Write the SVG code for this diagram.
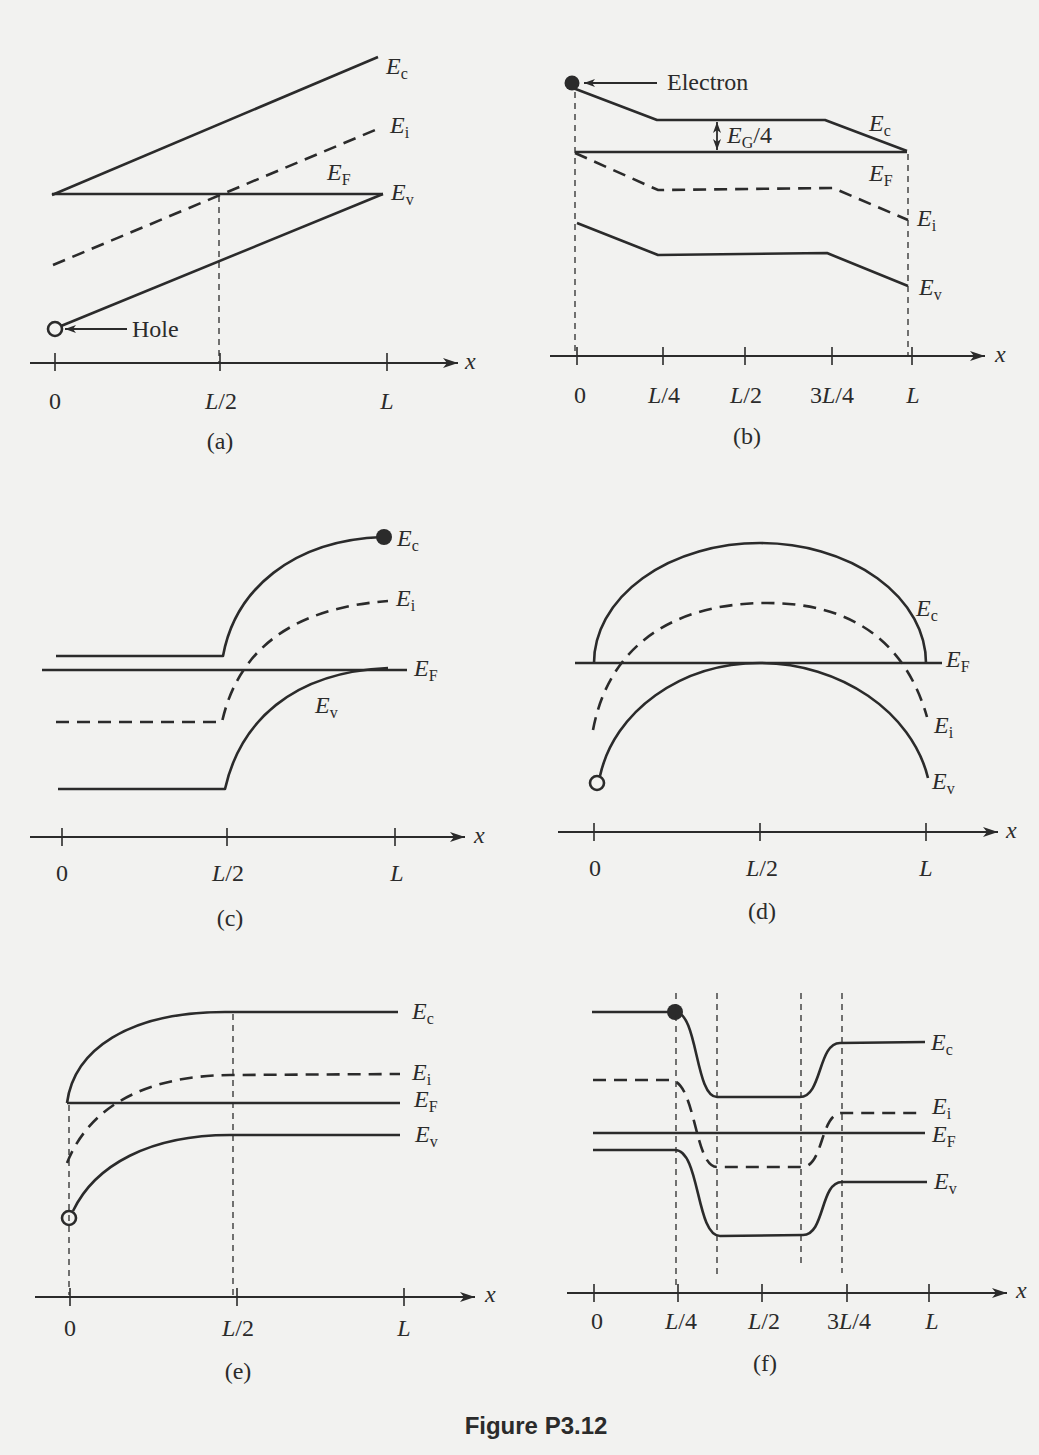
<svg xmlns="http://www.w3.org/2000/svg" width="1039" height="1455" viewBox="0 0 1039 1455">
<defs>
<marker id="ah" markerUnits="userSpaceOnUse" markerWidth="16" markerHeight="10" refX="15" refY="5" orient="auto">
<path d="M0,0 L15,5 L0,10 L4,5 z" fill="#2b2b2b"/>
</marker>
<marker id="ahs" markerUnits="userSpaceOnUse" markerWidth="12" markerHeight="8" refX="11" refY="4" orient="auto-start-reverse">
<path d="M0,0 L11,4 L0,8 L3,4 z" fill="#2b2b2b"/>
</marker>
</defs>
<style>
.bg{fill:#f2f2f0}
.band{fill:none;stroke:#2b2b2b;stroke-width:2.6;stroke-linejoin:round}
.dash{fill:none;stroke:#2b2b2b;stroke-width:2.6;stroke-dasharray:13,8}
.vd{fill:none;stroke:#2b2b2b;stroke-width:1.3;stroke-dasharray:6,5}
.axis{fill:none;stroke:#2b2b2b;stroke-width:1.8}
.tick{stroke:#2b2b2b;stroke-width:1.6}
.t{font-family:"Liberation Serif","Times New Roman",serif;font-size:24px;fill:#2b2b2b}
.c{text-anchor:middle}
.i{font-style:italic}
.sub{font-style:normal;font-size:16px}
.cap{font-family:"Liberation Sans",Arial,sans-serif;font-weight:bold;font-size:24px;fill:#2b2b2b;text-anchor:middle}
</style>
<rect class="bg" x="0" y="0" width="1039" height="1455"/>

<!-- Panel (a) -->
<g id="panel-a">
<path class="band" d="M52,195 L378,57"/>
<path class="dash" d="M53,265 L380,128"/>
<path class="band" d="M52,194 L383,194"/>
<path class="band" d="M61,326 L383,194"/>
<circle cx="55" cy="329" r="7" fill="#f2f2f0" stroke="#2b2b2b" stroke-width="2.6"/>
<line class="axis" x1="127" y1="329" x2="65" y2="329" marker-end="url(#ahs)"/>
<text class="t" x="132" y="337">Hole</text>
<line class="vd" x1="219" y1="196" x2="219" y2="362"/>
<line class="axis" x1="30" y1="363" x2="458" y2="363" marker-end="url(#ah)"/>
<line class="tick" x1="55" y1="353" x2="55" y2="371"/>
<line class="tick" x1="220" y1="353" x2="220" y2="371"/>
<line class="tick" x1="387" y1="353" x2="387" y2="371"/>
<text class="t i" x="465" y="369">x</text>
<text class="t c" x="55" y="409">0</text>
<text class="t c" x="221" y="409"><tspan class="i">L</tspan>/2</text>
<text class="t c i" x="387" y="409">L</text>
<text class="t c" x="220" y="449">(a)</text>
<text class="t i" x="386" y="74">E<tspan class="sub" dy="5">c</tspan></text>
<text class="t i" x="390" y="133">E<tspan class="sub" dy="5">i</tspan></text>
<text class="t i" x="327" y="180">E<tspan class="sub" dy="5">F</tspan></text>
<text class="t i" x="391" y="200">E<tspan class="sub" dy="5">v</tspan></text>
</g>

<!-- Panel (b) -->
<g id="panel-b">
<path class="band" d="M573,88 L657,120 L825,120 L907,151"/>
<path class="band" d="M575,152 L907,152"/>
<path class="dash" d="M575,153 L658,190 L833,188 L908,220"/>
<path class="band" d="M577,223 L658,255 L827,253 L908,286"/>
<circle cx="572" cy="83" r="7.5" fill="#2b2b2b"/>
<line class="axis" x1="657" y1="83" x2="584" y2="83" marker-end="url(#ahs)"/>
<text class="t" x="667" y="90">Electron</text>
<line class="axis" x1="717" y1="122" x2="717" y2="150" marker-start="url(#ahs)" marker-end="url(#ahs)"/>
<text class="t i" x="727" y="143">E<tspan class="sub" dy="5">G</tspan><tspan dy="-5" style="font-style:normal">/4</tspan></text>
<line class="vd" x1="575" y1="92" x2="575" y2="355"/>
<line class="vd" x1="908" y1="154" x2="908" y2="355"/>
<line class="axis" x1="550" y1="356" x2="985" y2="356" marker-end="url(#ah)"/>
<line class="tick" x1="577" y1="347" x2="577" y2="365"/>
<line class="tick" x1="663" y1="347" x2="663" y2="365"/>
<line class="tick" x1="745" y1="347" x2="745" y2="365"/>
<line class="tick" x1="832" y1="347" x2="832" y2="365"/>
<line class="tick" x1="912" y1="347" x2="912" y2="365"/>
<text class="t i" x="995" y="362">x</text>
<text class="t c" x="580" y="403">0</text>
<text class="t c" x="664" y="403"><tspan class="i">L</tspan>/4</text>
<text class="t c" x="746" y="403"><tspan class="i">L</tspan>/2</text>
<text class="t c" x="832" y="403">3<tspan class="i">L</tspan>/4</text>
<text class="t c i" x="913" y="403">L</text>
<text class="t c" x="747" y="444">(b)</text>
<text class="t i" x="869" y="131">E<tspan class="sub" dy="5">c</tspan></text>
<text class="t i" x="869" y="181">E<tspan class="sub" dy="5">F</tspan></text>
<text class="t i" x="917" y="226">E<tspan class="sub" dy="5">i</tspan></text>
<text class="t i" x="919" y="295">E<tspan class="sub" dy="5">v</tspan></text>
</g>

<!-- Panel (c) -->
<g id="panel-c">
<path class="band" d="M56,656 L223,656 C235,590 292,540 383,537"/>
<circle cx="384" cy="537" r="8" fill="#2b2b2b"/>
<path class="band" d="M42,670 L407,670"/>
<path class="dash" d="M56,722 L222,722 C238,650 292,608 388,601"/>
<path class="band" d="M58,789 L225,789 C240,722 292,672 388,668"/>
<line class="axis" x1="30" y1="837" x2="465" y2="837" marker-end="url(#ah)"/>
<line class="tick" x1="62" y1="828" x2="62" y2="846"/>
<line class="tick" x1="227" y1="828" x2="227" y2="846"/>
<line class="tick" x1="395" y1="828" x2="395" y2="846"/>
<text class="t i" x="474" y="843">x</text>
<text class="t c" x="62" y="881">0</text>
<text class="t c" x="228" y="881"><tspan class="i">L</tspan>/2</text>
<text class="t c i" x="397" y="881">L</text>
<text class="t c" x="230" y="926">(c)</text>
<text class="t i" x="397" y="546">E<tspan class="sub" dy="5">c</tspan></text>
<text class="t i" x="396" y="606">E<tspan class="sub" dy="5">i</tspan></text>
<text class="t i" x="414" y="676">E<tspan class="sub" dy="5">F</tspan></text>
<text class="t i" x="315" y="713">E<tspan class="sub" dy="5">v</tspan></text>
</g>

<!-- Panel (d) -->
<g id="panel-d">
<path class="band" d="M575,663 L942,663"/>
<path class="band" d="M594,663 A166,120 0 0 1 926,663"/>
<path class="dash" d="M593,730 C610,640 680,603 767,603 C850,603 905,640 927,717"/>
<path class="band" d="M600,776 C614,712 680,663 760,663 C840,663 912,712 928,778"/>
<circle cx="597" cy="783" r="7" fill="#f2f2f0" stroke="#2b2b2b" stroke-width="2.6"/>
<line class="axis" x1="558" y1="832" x2="998" y2="832" marker-end="url(#ah)"/>
<line class="tick" x1="594" y1="823" x2="594" y2="841"/>
<line class="tick" x1="760" y1="823" x2="760" y2="841"/>
<line class="tick" x1="926" y1="823" x2="926" y2="841"/>
<text class="t i" x="1006" y="838">x</text>
<text class="t c" x="595" y="876">0</text>
<text class="t c" x="762" y="876"><tspan class="i">L</tspan>/2</text>
<text class="t c i" x="926" y="876">L</text>
<text class="t c" x="762" y="919">(d)</text>
<text class="t i" x="916" y="616">E<tspan class="sub" dy="5">c</tspan></text>
<text class="t i" x="946" y="667">E<tspan class="sub" dy="5">F</tspan></text>
<text class="t i" x="934" y="733">E<tspan class="sub" dy="5">i</tspan></text>
<text class="t i" x="932" y="789">E<tspan class="sub" dy="5">v</tspan></text>
</g>

<!-- Panel (e) -->
<g id="panel-e">
<path class="band" d="M67,1103 C74,1050 128,1012 225,1012 L398,1012"/>
<path class="dash" d="M67,1163 C88,1110 140,1076 230,1075 L400,1074"/>
<path class="band" d="M67,1103 L400,1103"/>
<path class="band" d="M73,1211 C95,1165 150,1135 230,1135 L400,1135"/>
<circle cx="69" cy="1218" r="7" fill="#f2f2f0" stroke="#2b2b2b" stroke-width="2.6"/>
<line class="vd" x1="69" y1="1105" x2="69" y2="1295"/>
<line class="vd" x1="233" y1="1014" x2="233" y2="1295"/>
<line class="axis" x1="35" y1="1297" x2="475" y2="1297" marker-end="url(#ah)"/>
<line class="tick" x1="70" y1="1288" x2="70" y2="1306"/>
<line class="tick" x1="237" y1="1288" x2="237" y2="1306"/>
<line class="tick" x1="404" y1="1288" x2="404" y2="1306"/>
<text class="t i" x="485" y="1302">x</text>
<text class="t c" x="70" y="1336">0</text>
<text class="t c" x="238" y="1336"><tspan class="i">L</tspan>/2</text>
<text class="t c i" x="404" y="1336">L</text>
<text class="t c" x="238" y="1379">(e)</text>
<text class="t i" x="412" y="1019">E<tspan class="sub" dy="5">c</tspan></text>
<text class="t i" x="412" y="1080">E<tspan class="sub" dy="5">i</tspan></text>
<text class="t i" x="414" y="1107">E<tspan class="sub" dy="5">F</tspan></text>
<text class="t i" x="415" y="1142">E<tspan class="sub" dy="5">v</tspan></text>
</g>

<!-- Panel (f) -->
<g id="panel-f">
<path class="band" d="M592,1012 L675,1012 C698,1012 695,1097 717,1097 L800,1097 C822,1097 818,1043 840,1043 L925,1042"/>
<circle cx="675" cy="1012" r="8" fill="#2b2b2b"/>
<path class="dash" d="M593,1080 L670,1080 C696,1080 694,1167 717,1167 L802,1167 C824,1167 820,1113 842,1113 L920,1113"/>
<path class="band" d="M593,1133 L925,1133"/>
<path class="band" d="M593,1150 L675,1150 C700,1150 696,1236 720,1236 L803,1235 C825,1235 820,1182 842,1182 L927,1182"/>
<line class="vd" x1="676" y1="993" x2="676" y2="1290"/>
<line class="vd" x1="717" y1="993" x2="717" y2="1277"/>
<line class="vd" x1="801" y1="993" x2="801" y2="1267"/>
<line class="vd" x1="842" y1="993" x2="842" y2="1273"/>
<line class="axis" x1="567" y1="1293" x2="1007" y2="1293" marker-end="url(#ah)"/>
<line class="tick" x1="594" y1="1284" x2="594" y2="1302"/>
<line class="tick" x1="678" y1="1284" x2="678" y2="1302"/>
<line class="tick" x1="762" y1="1284" x2="762" y2="1302"/>
<line class="tick" x1="847" y1="1284" x2="847" y2="1302"/>
<line class="tick" x1="929" y1="1284" x2="929" y2="1302"/>
<text class="t i" x="1016" y="1298">x</text>
<text class="t c" x="597" y="1329">0</text>
<text class="t c" x="681" y="1329"><tspan class="i">L</tspan>/4</text>
<text class="t c" x="764" y="1329"><tspan class="i">L</tspan>/2</text>
<text class="t c" x="849" y="1329">3<tspan class="i">L</tspan>/4</text>
<text class="t c i" x="932" y="1329">L</text>
<text class="t c" x="765" y="1371">(f)</text>
<text class="t i" x="931" y="1050">E<tspan class="sub" dy="5">c</tspan></text>
<text class="t i" x="932" y="1114">E<tspan class="sub" dy="5">i</tspan></text>
<text class="t i" x="932" y="1142">E<tspan class="sub" dy="5">F</tspan></text>
<text class="t i" x="934" y="1189">E<tspan class="sub" dy="5">v</tspan></text>
</g>

<g id="caption">
<text class="cap" x="536" y="1434">Figure P3.12</text>
</g>
</svg>
